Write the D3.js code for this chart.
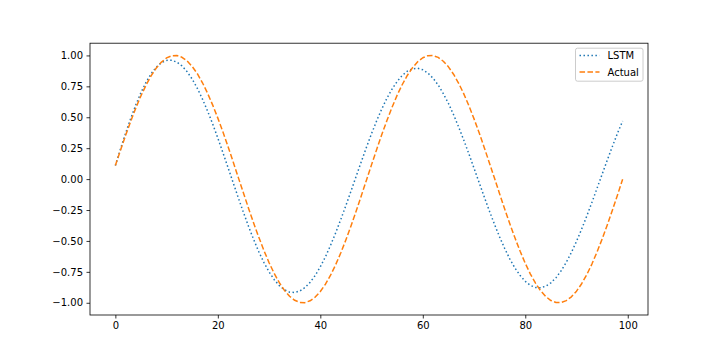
<!DOCTYPE html>
<html>
<head>
<meta charset="utf-8">
<script src="https://cdn.jsdelivr.net/npm/d3@7"></script>
<style>
  html, body { margin: 0; padding: 0; background: #ffffff; }
  svg { display: block; }
  text { font-family: "DejaVu Sans", sans-serif; }
</style>
</head>
<body>
<div id="chart"></div>
<script>
// ---- data ----
const steps = d3.range(0, 100); // x index 0..99

const seriesNames = ["LSTM", "Actual"];

const lstmValues = [
  0.110, 0.243, 0.371, 0.491, 0.601, 0.700, 0.784, 0.853, 0.906, 0.942,
  0.960, 0.961, 0.946, 0.915, 0.869, 0.808, 0.734, 0.647, 0.550, 0.445,
  0.332, 0.213, 0.092, -0.031, -0.152, -0.270, -0.384, -0.490, -0.588, -0.675,
  -0.751, -0.813, -0.862, -0.895, -0.914, -0.917, -0.905, -0.877, -0.835, -0.779,
  -0.709, -0.628, -0.535, -0.434, -0.326, -0.212, -0.095, 0.024, 0.142, 0.257,
  0.368, 0.472, 0.568, 0.654, 0.728, 0.790, 0.839, 0.873, 0.892, 0.896,
  0.884, 0.857, 0.816, 0.761, 0.692, 0.612, 0.521, 0.421, 0.315, 0.203,
  0.087, -0.029, -0.145, -0.258, -0.367, -0.469, -0.563, -0.647, -0.720, -0.780,
  -0.827, -0.859, -0.877, -0.879, -0.866, -0.839, -0.797, -0.741, -0.673, -0.593,
  -0.503, -0.404, -0.299, -0.189, -0.075, 0.040, 0.153, 0.264, 0.371, 0.470
];

const actualValues = [
  0.110, 0.234, 0.354, 0.468, 0.576, 0.674, 0.761, 0.837, 0.899, 0.946,
  0.980, 0.997, 0.999, 0.985, 0.955, 0.911, 0.852, 0.779, 0.694, 0.598,
  0.493, 0.380, 0.261, 0.138, 0.012, -0.113, -0.237, -0.357, -0.471, -0.578,
  -0.676, -0.763, -0.838, -0.900, -0.947, -0.980, -0.997, -0.999, -0.984, -0.954,
  -0.909, -0.850, -0.777, -0.692, -0.596, -0.490, -0.377, -0.258, -0.134, -0.009,
  0.117, 0.240, 0.360, 0.474, 0.581, 0.679, 0.765, 0.840, 0.901, 0.949,
  0.981, 0.998, 0.999, 0.984, 0.953, 0.908, 0.848, 0.775, 0.689, 0.593,
  0.487, 0.374, 0.254, 0.131, 0.006, -0.120, -0.244, -0.363, -0.477, -0.584,
  -0.681, -0.768, -0.842, -0.903, -0.950, -0.982, -0.998, -0.998, -0.983, -0.952,
  -0.906, -0.846, -0.773, -0.687, -0.590, -0.484, -0.371, -0.251, -0.128, -0.002
];

const xTickValues = [0, 20, 40, 60, 80, 100];
const yTickValues = [-1.00, -0.75, -0.50, -0.25, 0.00, 0.25, 0.50, 0.75, 1.00];

// ---- layout ----
const W = 720, H = 360;
const plot = { left: 90, right: 648, top: 43.2, bottom: 315 };

const svg = d3.select("#chart").append("svg")
  .attr("width", W).attr("height", H)
  .attr("viewBox", `0 0 ${W} ${H}`);

svg.append("rect").attr("width", W).attr("height", H).attr("fill", "#ffffff");

const xMin = d3.min(steps), xMax = d3.max(steps);
const xPad = (xMax - xMin) * 0.05;
const x = d3.scaleLinear().domain([xMin - xPad, xMax + xPad]).range([plot.left, plot.right]);

const allVals = lstmValues.concat(actualValues);
const yMin = d3.min(allVals), yMax = d3.max(allVals);
const yPad = (yMax - yMin) * 0.05;
const y = d3.scaleLinear().domain([yMin - yPad, yMax + yPad]).range([plot.bottom, plot.top]);

const minus = s => s.replace("-", "\u2212");

// axes
const xAxis = d3.axisBottom(x).tickValues(xTickValues)
  .tickSize(3.5).tickSizeOuter(0).tickPadding(3.5)
  .tickFormat(d => minus(d3.format("d")(d)));
const yAxis = d3.axisLeft(y).tickValues(yTickValues)
  .tickSize(3.5).tickSizeOuter(0).tickPadding(3.5)
  .tickFormat(d => minus(d3.format(".2f")(d)));

const gx = svg.append("g").attr("transform", `translate(0,${plot.bottom})`).call(xAxis);
const gy = svg.append("g").attr("transform", `translate(${plot.left},0)`).call(yAxis);
[gx, gy].forEach(g => {
  g.select(".domain").remove();
  g.selectAll(".tick line").attr("stroke", "#000").attr("stroke-width", 0.8);
  g.selectAll(".tick text").attr("fill", "#000")
    .style("font-family", "'DejaVu Sans', sans-serif").style("font-size", "10px");
});

// lines
const lineGen = d3.line().x((d, i) => x(steps[i])).y(d => y(d));
const clip = svg.append("clipPath").attr("id", "clip").append("rect")
  .attr("x", plot.left).attr("y", plot.top)
  .attr("width", plot.right - plot.left).attr("height", plot.bottom - plot.top);

const plotG = svg.append("g").attr("clip-path", "url(#clip)");

plotG.append("path").datum(lstmValues)
  .attr("d", lineGen)
  .attr("fill", "none")
  .attr("stroke", "#1f77b4")
  .attr("stroke-width", 1.5)
  .attr("stroke-dasharray", "1.5,2.475")
  .attr("stroke-linejoin", "round");

plotG.append("path").datum(actualValues)
  .attr("d", lineGen)
  .attr("fill", "none")
  .attr("stroke", "#ff7f0e")
  .attr("stroke-width", 1.5)
  .attr("stroke-dasharray", "5.55,2.4")
  .attr("stroke-linejoin", "round");

// spines
svg.append("rect")
  .attr("x", plot.left).attr("y", plot.top)
  .attr("width", plot.right - plot.left).attr("height", plot.bottom - plot.top)
  .attr("fill", "none").attr("stroke", "#000").attr("stroke-width", 0.8);

// legend
const legend = { right: plot.right - 5, top: plot.top + 5, width: 67.5, height: 33 };
const lg = svg.append("g");
lg.append("rect")
  .attr("x", legend.right - legend.width).attr("y", legend.top)
  .attr("width", legend.width).attr("height", legend.height)
  .attr("rx", 2).attr("ry", 2)
  .attr("fill", "#ffffff").attr("fill-opacity", 0.8)
  .attr("stroke", "#cccccc").attr("stroke-width", 1);

const legendItems = [
  { name: seriesNames[0], color: "#1f77b4", dash: "1.5,2.475" },
  { name: seriesNames[1], color: "#ff7f0e", dash: "5.55,2.4" }
];
const lx0 = legend.right - legend.width + 4;
legendItems.forEach((it, i) => {
  const cy = legend.top + 7.2 + i * 16.5;
  lg.append("line")
    .attr("x1", lx0).attr("x2", lx0 + 20)
    .attr("y1", cy).attr("y2", cy)
    .attr("stroke", it.color).attr("stroke-width", 1.5)
    .attr("stroke-dasharray", it.dash);
  lg.append("text")
    .attr("x", lx0 + 28).attr("y", cy).attr("dy", "0.36em")
    .attr("fill", "#000").style("font-size", "10px")
    .text(it.name);
});
</script>
</body>
</html>
